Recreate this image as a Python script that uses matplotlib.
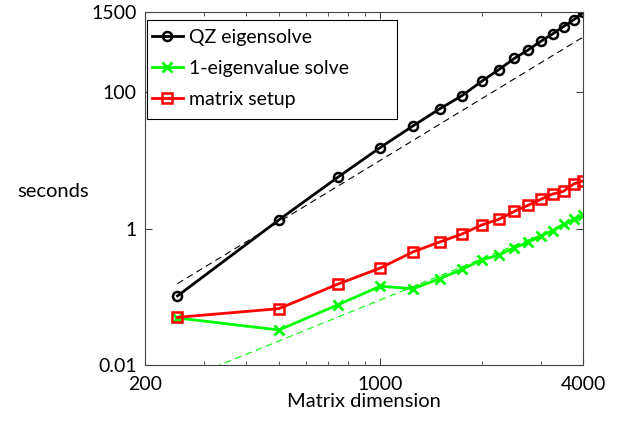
import numpy as np
import matplotlib
matplotlib.use('Agg')
import matplotlib.pyplot as plt
from matplotlib.patches import Rectangle
from matplotlib.ticker import FixedLocator, NullFormatter

plt.rcParams['font.family'] = ['Lato', 'DejaVu Sans']

# Matrix sizes
n = [250, 500, 750, 1000, 1250, 1500, 1750, 2000, 2250, 2500,
     2750, 3000, 3250, 3500, 3750, 4000]
# Timings (seconds)
qz = [0.103, 1.34, 5.7, 15.4, 31.9, 56.7, 88.9, 144, 214, 311,
      416, 557, 713, 913, 1145, 1466]
eig1 = [0.049, 0.0326, 0.0766, 0.143, 0.131, 0.184, 0.253, 0.347, 0.41, 0.525,
        0.63, 0.78, 0.93, 1.16, 1.37, 1.57]
setup = [0.05, 0.067, 0.154, 0.264, 0.454, 0.635, 0.834, 1.13, 1.37, 1.79,
         2.2, 2.69, 3.21, 3.52, 4.5, 4.99]
# Reference slopes (end points)
ref3_x = [250, 4000]
ref3_y = [0.156, 640]
ref2_x = [300, 4000]
ref2_y = [0.0081, 1.44]

fig = plt.figure(figsize=(6.19, 4.22), dpi=100)
ax = fig.add_axes([0.234, 0.135, 0.708, 0.837])

ax.loglog(ref3_x, ref3_y, '--', color='black', lw=0.8, dashes=(6, 4))
ax.loglog(ref2_x, ref2_y, '--', color='#00ff00', lw=0.8, dashes=(6, 4))
ax.loglog(n, qz, '-o', color='black', lw=2, ms=6.5, mew=1.8, mfc='none',
          label='QZ eigensolve')
ax.loglog(n, eig1, '-x', color='#00ff00', lw=2, ms=6.5, mew=2,
          label='1-eigenvalue solve')
ax.loglog(n, setup, '-s', color='#ff0000', lw=2, ms=6.5, mew=1.8, mfc='none',
          label='matrix setup')

ax.set_xlim(200, 4000)
ax.set_ylim(0.01, 1500)
ax.xaxis.set_major_locator(FixedLocator([200, 1000, 4000]))
ax.xaxis.set_minor_locator(FixedLocator([300, 400, 500, 600, 700, 800, 900, 2000, 3000]))
ax.xaxis.set_minor_formatter(NullFormatter())
ax.set_xticklabels(['200', '1000', '4000'])
ax.yaxis.set_major_locator(FixedLocator([0.01, 1, 100, 1500]))
ax.yaxis.set_minor_locator(FixedLocator([]))
ax.set_yticklabels(['0.01', '1', '100', '1500'])
ax.tick_params(which='both', direction='in', top=True, right=True,
               labelsize=14, color='#444444')
ax.tick_params(axis='x', which='major', pad=8)
ax.tick_params(axis='y', which='major', pad=6)
ax.tick_params(which='major', length=5)
ax.tick_params(which='minor', length=3)
for s in ax.spines.values():
    s.set_color('#444444')
    s.set_linewidth(0.8)

ax.set_xlabel('Matrix dimension', fontsize=14.5, labelpad=0)
ax.set_ylabel('seconds', fontsize=14.5, rotation=0, ha='center', va='center')
ax.yaxis.set_label_coords(-0.21, 0.49)

# legend box (MATLAB style, wider than its text)
ax.add_patch(Rectangle((0.005, 0.697), 0.57, 0.28, transform=ax.transAxes,
                       fc='white', ec='black', lw=0.8, zorder=4.5))
leg = ax.legend(loc='upper left', fontsize=14, frameon=False,
                handlelength=1.6, handletextpad=0.3,
                borderaxespad=0.0, labelspacing=0.72, borderpad=0.45,
                bbox_to_anchor=(-0.004, 0.977))

fig.savefig('out.png', dpi=100)
